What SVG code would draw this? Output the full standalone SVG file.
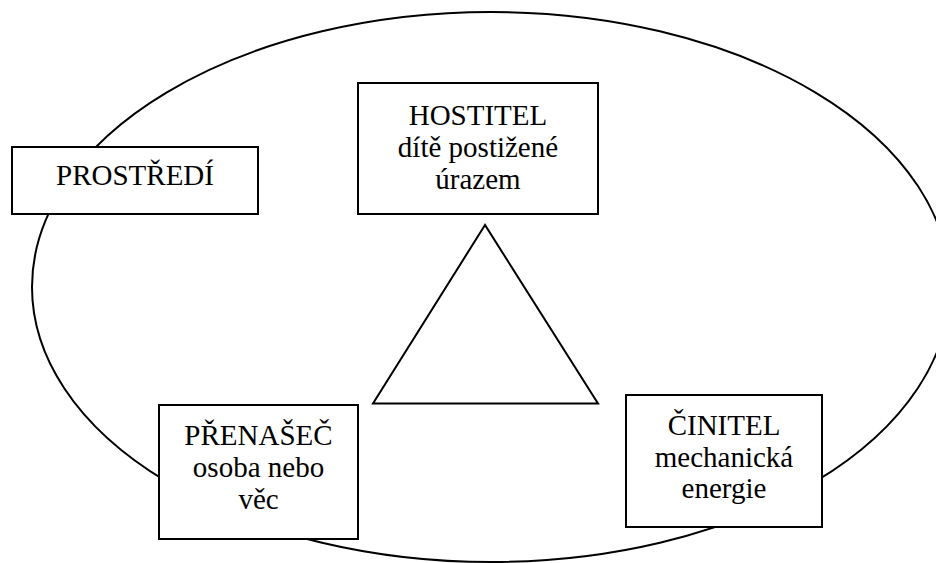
<svg xmlns="http://www.w3.org/2000/svg" width="936" height="563" viewBox="0 0 936 563">
<style>
.box{fill:#fff;stroke:#000;stroke-width:2}
.shape{fill:none;stroke:#000;stroke-width:2}
.lbl{font-size:29px;fill:#000;text-anchor:middle}
</style>
<rect width="936" height="563" fill="#fff"/>
<g id="connectors">
<ellipse class="shape" cx="491" cy="287" rx="459" ry="275"/>
<polygon class="shape" points="485,225 373,403.5 598,403.5"/>
</g>
<g font-family="'Liberation Serif', Tinos, 'Times New Roman', Times, 'Noto Serif', 'DejaVu Serif', FreeSerif, serif">
<g id="prostredi">
<rect class="box" x="12" y="147" width="246" height="67"/>
<text class="lbl" x="135" y="185">PROSTŘEDÍ</text>
</g>
<g id="hostitel">
<rect class="box" x="358" y="83" width="240" height="131"/>
<text class="lbl" x="478" y="125">HOSTITEL</text>
<text class="lbl" x="478" y="157">dítě postižené</text>
<text class="lbl" x="478" y="189">úrazem</text>
</g>
<g id="prenasec">
<rect class="box" x="159" y="405" width="199" height="134"/>
<text class="lbl" x="258.5" y="445">PŘENAŠEČ</text>
<text class="lbl" x="258.5" y="477">osoba nebo</text>
<text class="lbl" x="258.5" y="509">věc</text>
</g>
<g id="cinitel">
<rect class="box" x="626" y="395" width="196" height="132"/>
<text class="lbl" x="724" y="435">ČINITEL</text>
<text class="lbl" x="724" y="467">mechanická</text>
<text class="lbl" x="724" y="498">energie</text>
</g>
</g>
</svg>
